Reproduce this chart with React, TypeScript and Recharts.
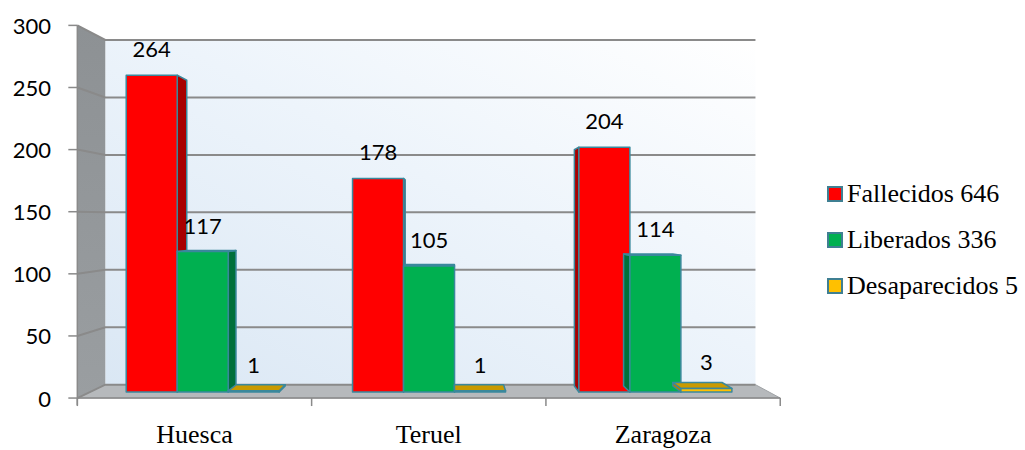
import React from 'react';
import { BarChart, Bar, XAxis, YAxis, ReferenceArea, ReferenceLine, LabelList } from 'recharts';

const categories = ['Huesca', 'Teruel', 'Zaragoza'];
const fallecidos = [264, 178, 204];
const liberados = [117, 105, 114];
const desaparecidos = [1, 1, 3];
const seriesNames = ['Fallecidos 646', 'Liberados 336', 'Desaparecidos 5'];
const seriesKeys = ['f', 'l', 'd'];
const yTicks = [0, 50, 100, 150, 200, 250, 300];

const data = categories.map((name, i) => ({
  name,
  f: fallecidos[i],
  l: liberados[i],
  d: desaparecidos[i],
}));

const COLORS = [
  { front: '#FF0000', side: '#A80000', top: '#C00000' },
  { front: '#00B050', side: '#00703A', top: '#008A3E' },
  { front: '#FFC000', side: '#B08400', top: '#C99A00' },
];
const EDGE = '#3A889C';

// perspective helpers (styling only)
const VX = 450;
const VY = 220;
const TB = 0.034; // bar plane depth
const TW = 0.075; // back wall depth
const TD = 0.035; // bar thickness

type P = { x: number; y: number };
const toFront = (x: number, y: number): P => ({ x: (x - VX * TB) / (1 - TB), y: (y - VY * TB) / (1 - TB) });
const toward = (p: P, t: number): P => ({ x: p.x + (VX - p.x) * t, y: p.y + (VY - p.y) * t });
const pts = (arr: P[]) => arr.map((p) => `${p.x},${p.y}`).join(' ');

const SANS = 'Lato, "Liberation Sans", sans-serif';
const SERIF = '"Liberation Serif", "Times New Roman", serif';

function Box3D(props: any) {
  const { x, y, width: w, height: h, idx } = props;
  if (w == null || h == null) return null;
  const c = COLORS[idx];
  const TL = { x, y };
  const TR = { x: x + w, y };
  const BR = { x: x + w, y: y + h };
  const BL = { x, y: y + h };
  const TL2 = toward(TL, TD);
  const TR2 = toward(TR, TD);
  const BR2 = toward(BR, TD);
  const BL2 = toward(BL, TD);
  const faces: React.ReactNode[] = [];
  if (x + w < VX) {
    faces.push(<polygon key="r" points={pts([TR, TR2, BR2, BR])} fill={c.side} stroke={EDGE} strokeWidth={1.5} strokeLinejoin="round" />);
  }
  if (x > VX) {
    faces.push(<polygon key="l" points={pts([TL, TL2, BL2, BL])} fill={c.side} stroke={EDGE} strokeWidth={1.5} strokeLinejoin="round" />);
  }
  if (y > VY) {
    faces.push(<polygon key="t" points={pts([TL, TR, TR2, TL2])} fill={c.top} stroke={EDGE} strokeWidth={1.5} strokeLinejoin="round" />);
  }
  return (
    <g>
      {faces}
      <rect x={x} y={y} width={w} height={Math.max(h, 0.5)} fill={c.front} stroke={EDGE} strokeWidth={1.5} strokeLinejoin="round" />
    </g>
  );
}

function Walls(props: any) {
  const { x, y, width, height } = props;
  const FTL = toFront(x, y);
  const FTR = toFront(x + width, y);
  const FBL = toFront(x, y + height);
  const FBR = toFront(x + width, y + height);
  const BTL = toward(FTL, TW);
  const BTR = toward(FTR, TW);
  const BBL = toward(FBL, TW);
  const BBR = toward(FBR, TW);
  const n = categories.length;
  const bounds = Array.from({ length: n + 1 }, (_, i) => FBL.x + ((FBR.x - FBL.x) * i) / n);
  return (
    <g>
      <defs>
        <linearGradient id="backWall" x1="0" y1="1" x2="1" y2="0">
          <stop offset="0" stopColor="#dae7f4" />
          <stop offset="0.55" stopColor="#edf4fb" />
          <stop offset="1" stopColor="#ffffff" />
        </linearGradient>
        <linearGradient id="sideWall" x1="0" y1="0" x2="0" y2="1">
          <stop offset="0" stopColor="#8d9194" />
          <stop offset="1" stopColor="#9a9ea1" />
        </linearGradient>
      </defs>
      <polygon points={pts([BTL, BTR, BBR, BBL])} fill="url(#backWall)" />
      <polygon points={pts([FTL, BTL, BBL, FBL])} fill="url(#sideWall)" />
      <polygon points={pts([FBL, BBL, BBR, FBR])} fill="#b6b9bc" stroke="#a0a3a6" strokeWidth={1} />
      <line x1={FTL.x} y1={FTL.y} x2={FBL.x} y2={FBL.y + 7} stroke="#8a8a8a" strokeWidth={1.5} />
      <line x1={FBL.x} y1={FBL.y} x2={FBR.x} y2={FBR.y} stroke="#8a8a8a" strokeWidth={1.5} />
      {bounds.map((bx, i) => (
        <line key={i} x1={bx} y1={FBL.y} x2={bx} y2={FBL.y + 8} stroke="#8a8a8a" strokeWidth={1.5} />
      ))}
    </g>
  );
}

function GridLine(props: any) {
  const { x1, y1, x2, y2 } = props;
  if (x1 == null) return null;
  const F = toFront(x1, y1);
  const B = toward(F, TW);
  const BR = toward(toFront(x2, y2), TW);
  return (
    <g>
      <line x1={F.x - 9} y1={F.y} x2={F.x} y2={F.y} stroke="#8a8a8a" strokeWidth={1.5} />
      <polyline points={pts([F, B, BR])} fill="none" stroke="#8a8a8a" strokeWidth={2} />
    </g>
  );
}

function YTick(props: any) {
  const { y, payload } = props;
  const F = toFront(90, y);
  return (
    <text x={51} y={F.y} textAnchor="end" dominantBaseline="central" fontFamily={SANS} fontSize={22} fill="#000">
      {payload.value}
    </text>
  );
}

function XTick(props: any) {
  const { x, payload } = props;
  const F = toFront(x, 392);
  return (
    <text x={F.x} y={443} textAnchor="middle" fontFamily={SERIF} fontSize={26} fill="#000">
      {payload.value}
    </text>
  );
}

export default function App() {
  return (
    <div style={{ position: 'absolute', left: 0, top: 0, width: 1025, height: 450, background: '#fff' }}>
      <BarChart
        width={1025}
        height={450}
        data={data}
        margin={{ top: 32, right: 256, bottom: 0, left: 0 }}
        barCategoryGap="16%"
        barGap={0}
      >
        <XAxis dataKey="name" axisLine={false} tickLine={false} height={58} interval={0} tick={<XTick />} />
        <YAxis domain={[0, 300]} ticks={yTicks} axisLine={false} tickLine={false} width={90} tick={<YTick />} />
        <ReferenceArea y1={0} y2={300} ifOverflow="visible" zIndex={-30} shape={(p: any) => <Walls {...p} />} />
        {yTicks.map((v) => (
          <ReferenceLine key={v} y={v} ifOverflow="visible" zIndex={-20} shape={(p: any) => <GridLine {...p} />} />
        ))}
        {seriesKeys.map((k, i) => (
          <Bar key={k} dataKey={k} name={seriesNames[i]} isAnimationActive={false} shape={(p: any) => <Box3D {...p} idx={i} />}>
            <LabelList dataKey={k} position="top" offset={18} fill="#000" style={{ fontFamily: SANS, fontSize: 22 }} />
          </Bar>
        ))}
      </BarChart>
      <div style={{ position: 'absolute', left: 827, top: 171 }}>
        {seriesNames.map((s, i) => (
          <div key={s} style={{ display: 'flex', alignItems: 'center', height: 46 }}>
            <span
              style={{
                display: 'inline-block',
                width: 12,
                height: 12,
                background: COLORS[i].front,
                border: `2.5px solid #3F7F92`,
                marginRight: 4,
              }}
            />
            <span style={{ fontFamily: SERIF, fontSize: 26, color: '#000', lineHeight: '46px', whiteSpace: 'nowrap' }}>{s}</span>
          </div>
        ))}
      </div>
    </div>
  );
}
